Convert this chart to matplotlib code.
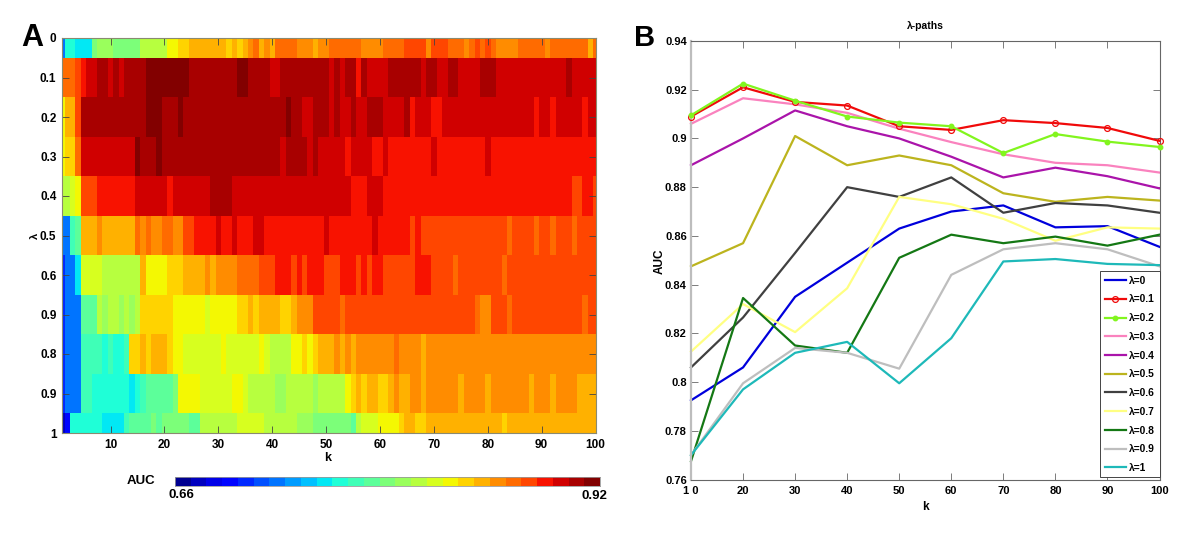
import numpy as np
import matplotlib
matplotlib.use("Agg")
from matplotlib import pyplot as plt
from matplotlib.colors import ListedColormap, BoundaryNorm

# AUC in hundredths, one row per lambda, k = 1..100
row_00 = [72,76,76,75,75,75,79,80,80,80, 79,79,79,79,79,81,81,81,81,81, 83,83,84,84,85,85,85,85,85,85, 85,84,85,84,85,86,87,85,86,85,
          87,87,87,87,86,86,86,85,86,86, 87,87,87,87,87,87,86,86,86,86, 87,87,87,87,88,88,88,88,86,88, 88,88,87,87,87,86,87,88,87,88,
          87,86,86,86,86,87,87,87,87,87, 86,87,87,87,87,87,87,87,85,87]
row_01 = [87,87,87,88,89,90,90,91,91,90, 91,90,91,91,91,91,92,92,92,92, 92,92,92,92,91,91,91,91,91,91, 91,91,91,92,92,91,91,91,91,90,
          90,91,91,91,91,91,91,91,91,91, 90,91,90,91,91,89,91,90,90,90, 90,91,91,91,91,91,91,90,91,91, 90,90,91,91,90,90,90,90,91,91,
          91,90,90,90,90,90,90,90,90,90, 90,90,90,90,91,90,90,90,90,90]
row_02 = [83,85,85,88,91,91,91,91,91,91, 91,91,91,91,91,91,92,92,92,91, 91,91,92,91,91,91,91,91,91,91, 91,91,91,91,91,91,91,91,91,91,
          91,91,92,91,91,90,90,91,91,91, 90,91,90,90,91,90,90,91,91,91, 90,90,90,90,91,89,90,90,90,89, 89,90,90,90,90,90,90,90,90,90,
          90,90,90,90,90,90,90,90,89,90, 90,89,90,90,90,90,90,89,90,90]
row_03 = [83,84,84,87,90,90,90,90,90,90, 90,90,90,90,92,91,91,91,92,91, 91,91,91,91,91,91,91,91,91,91, 91,91,91,91,91,91,91,91,91,91,
          91,90,91,91,91,91,90,91,90,90, 90,90,90,89,90,90,90,90,89,89, 90,89,89,89,89,89,89,89,89,90, 89,89,89,89,89,89,89,89,89,90,
          89,89,89,89,89,89,89,89,89,89, 89,89,89,89,89,89,89,89,89,89]
row_04 = [81,81,82,83,88,88,88,89,89,89, 89,89,89,89,90,90,90,90,90,90, 89,90,90,90,90,90,90,90,91,91, 91,91,90,90,90,90,90,90,90,90,
          90,90,90,90,90,90,90,90,90,90, 90,90,90,90,89,89,89,90,90,90, 89,89,89,89,89,89,89,89,89,89, 89,89,89,89,89,89,89,89,89,89,
          89,89,89,89,89,89,89,89,89,89, 89,89,89,89,89,88,88,89,89,88]
row_05 = [72,72,77,78,85,85,85,86,85,85, 85,85,85,85,87,86,87,86,86,87, 87,86,86,88,88,89,89,89,89,90, 89,89,90,89,89,89,90,90,89,89,
          89,89,89,89,89,89,89,89,89,90, 89,89,89,89,89,89,89,89,90,89, 89,89,89,89,89,88,89,88,88,88, 88,88,88,88,88,88,88,88,88,88,
          88,88,88,87,88,88,88,88,87,88, 88,87,88,88,88,87,88,88,88,88]
row_06 = [70,72,72,75,82,82,82,82,81,81, 81,81,81,81,81,85,83,83,83,83, 84,84,84,85,85,85,85,86,85,86, 86,86,86,87,87,87,87,88,88,88,
          89,89,89,88,89,88,89,89,89,88, 88,88,89,89,89,88,89,88,89,89, 88,88,88,88,88,88,89,89,89,88, 88,88,88,87,88,88,88,88,88,88,
          88,88,87,88,88,88,88,88,88,88, 88,88,88,88,88,88,88,88,88,88]
row_07 = [70,72,72,72,78,78,78,81,80,81, 81,80,81,80,81,84,84,84,84,84, 84,83,83,83,83,83,83,82,83,83, 83,83,83,84,84,85,84,85,85,85,
          85,84,84,85,86,86,86,88,88,88, 88,88,87,88,88,88,88,88,88,88, 88,88,88,88,88,88,88,88,88,88, 88,88,88,88,88,88,88,87,86,86,
          88,88,88,87,88,88,88,88,88,88, 88,88,88,88,88,88,88,87,88,88]
row_08 = [70,72,72,72,77,77,77,77,76,77, 76,76,77,84,84,85,84,85,85,85, 84,83,83,82,82,82,82,82,82,82, 83,82,82,82,82,82,82,83,82,81,
          81,81,81,83,83,84,83,84,85,85, 85,86,85,86,85,86,86,86,86,86, 86,86,87,86,86,86,86,85,86,86, 86,86,86,86,86,86,86,86,86,86,
          86,86,86,86,86,86,86,86,86,86, 86,86,86,86,86,86,86,86,86,86]
row_09 = [70,72,72,72,77,77,76,76,76,76, 76,76,76,75,76,77,78,78,78,78, 78,79,83,83,83,83,82,82,82,82, 82,82,83,83,82,81,81,81,81,81,
          80,80,81,81,81,81,81,80,81,81, 81,81,81,83,84,85,84,85,85,84, 84,85,86,85,85,86,86,85,86,86, 86,86,86,86,85,86,86,86,86,85,
          86,86,86,86,86,86,86,85,86,86, 86,85,86,86,86,86,85,85,85,85]
row_10 = [67,69,76,76,76,76,76,76,75,75, 75,75,77,78,78,78,78,79,78,79, 79,79,79,79,78,78,81,81,81,81, 81,81,81,82,82,82,82,82,81,81,
          81,81,81,81,80,80,80,79,79,79, 79,79,79,79,78,81,82,82,82,83, 83,83,83,84,85,85,84,84,85,85, 85,85,85,85,85,85,85,85,85,85,
          85,85,84,85,85,85,85,85,85,85, 85,85,85,85,85,85,85,85,85,85]

# panel B
k_values = [10, 20, 30, 40, 50, 60, 70, 80, 90, 100]
auc_00 = [.7925, .806, .835, .849, .863, .870, .8725, .8635, .864, .8555]
auc_01 = [.909, .921, .915, .9135, .905, .9035, .9075, .9063, .9043, .899]
auc_02 = [.9095, .9225, .9155, .909, .9065, .905, .894, .9018, .8987, .8965]
auc_03 = [.906, .9165, .914, .9105, .904, .8985, .8935, .89, .889, .886]
auc_04 = [.889, .900, .9115, .905, .900, .8925, .884, .888, .8845, .8795]
auc_05 = [.8475, .857, .901, .889, .893, .889, .8775, .874, .876, .8745]
auc_06 = [.806, .8265, .853, .88, .876, .884, .8695, .8735, .8725, .8695]
auc_07 = [.8125, .832, .8205, .8385, .876, .873, .867, .858, .8635, .863]
auc_08 = [.7675, .8345, .815, .812, .851, .8605, .857, .8597, .856, .8605]
auc_09 = [.77, .7995, .814, .812, .8055, .844, .8545, .857, .8545, .8475]
auc_10 = [.77, .797, .812, .8165, .7995, .818, .8495, .8505, .8485, .848]

lambda_labels = ["0", "0.1", "0.2", "0.3", "0.4", "0.5", "0.6", "0.9", "0.8", "0.9", "1"]
legend_labels = ["λ=0", "λ=0.1", "λ=0.2", "λ=0.3", "λ=0.4", "λ=0.5", "λ=0.6", "λ=0.7", "λ=0.8", "λ=0.9", "λ=1"]
y_labels_b = ["0.76", "0.78", "0.8", "0.82", "0.84", "0.86", "0.88", "0.9", "0.92", "0.94"]
x_labels_b = ["1 0", "20", "30", "40", "50", "60", "70", "80", "90", "100"]
line_colors = ["#0000dc", "#f00a0a", "#82f51e", "#fa82be", "#aa14aa", "#bcb41e",
               "#404040", "#ffff82", "#147814", "#bebebe", "#1eb9b9"]
auc_levels = list(range(66, 93))

W, H = 1200.0, 539.0
plt.rcParams["font.family"] = ["Liberation Sans", "DejaVu Sans"]


def px_axes(fig, left, top, right, bottom):
    return fig.add_axes([left / W, 1 - bottom / H, (right - left) / W, (bottom - top) / H])


fig = plt.figure(figsize=(12, 5.39), dpi=100)

# jet in 27 steps, the top end is a bit darker in the original
colors = plt.get_cmap("jet")(np.linspace(0, 1, 55)[1::2])
colors[-4] = (248 / 255, 18 / 255, 0, 1)
colors[-3] = (208 / 255, 0, 0, 1)
colors[-2] = (168 / 255, 0, 0, 1)
colors[-1] = (130 / 255, 0, 0, 1)
cmap = ListedColormap(colors)
norm = BoundaryNorm(np.arange(65.5, 93), 27)

# panel A
ax = px_axes(fig, 62, 38, 595.5, 433)
grid = np.array([row_00, row_01, row_02, row_03, row_04, row_05, row_06, row_07, row_08, row_09, row_10])
ax.imshow(grid, cmap=cmap, norm=norm, aspect="auto", interpolation="nearest", extent=(0.5, 100.5, 1.05, -0.05))
ax.set_xlim(1, 100)
ax.set_ylim(1, 0)
ax.set_xticks(range(10, 101, 10))
ax.set_yticks(np.arange(0, 1.01, 0.1))
ax.set_yticklabels(lambda_labels)
ax.tick_params(direction="in", length=5, width=0.6, color="#444444", top=True, right=True,
               labelsize=8.5, pad=4)
for lab in ax.get_xticklabels() + ax.get_yticklabels():
    lab.set_fontweight("bold")
for s in ax.spines.values():
    s.set_color("#8a8a70")
    s.set_linewidth(0.8)
fig.text(328 / W, 1 - 458 / H, "k", fontsize=9, fontweight="bold", ha="center", va="center")
fig.text(35 / W, 1 - 236 / H, "λ", fontsize=8, fontweight="bold", rotation=90, ha="center", va="center")
fig.text(32.5 / W, 1 - 38.5 / H, "A", fontsize=22, fontweight="bold", ha="center", va="center")

# colour bar
cax = px_axes(fig, 175, 476.5, 599.5, 486)
cax.imshow([auc_levels], cmap=cmap, norm=norm, aspect="auto", interpolation="nearest")
cax.set_xticks([])
cax.set_yticks([])
for s in cax.spines.values():
    s.set_color("#999999")
    s.set_linewidth(0.6)
fig.text(141 / W, 1 - 481 / H, "AUC", fontsize=9.5, fontweight="bold", ha="center", va="center")
fig.text(181 / W, 1 - 495 / H, "0.66", fontsize=9.5, fontweight="bold", ha="center", va="center")
fig.text(594 / W, 1 - 496 / H, "0.92", fontsize=9.5, fontweight="bold", ha="center", va="center")

# panel B
bx = px_axes(fig, 691, 41, 1159.5, 479.5)
series = [auc_00, auc_01, auc_02, auc_03, auc_04, auc_05, auc_06, auc_07, auc_08, auc_09, auc_10]
for i, vals in enumerate(series):
    kw = {}
    if i == 1:
        kw = dict(marker="o", ms=4.2, mfc="none", mew=0.9)
    elif i == 2:
        kw = dict(marker="o", ms=3.2)
    bx.plot(k_values, vals, color=line_colors[i], lw=1.6, label=legend_labels[i], clip_on=False,
            zorder=2 + (i in (1, 2)), **kw)
bx.set_xlim(10, 100)
bx.set_ylim(0.76, 0.94)
bx.set_xticks(k_values)
bx.set_xticklabels(x_labels_b)
bx.set_yticks(np.arange(0.76, 0.941, 0.02))
bx.set_yticklabels(y_labels_b)
bx.tick_params(direction="in", length=5, width=0.6, color="#666666", top=True, right=True, labelsize=8, pad=3)
bx.tick_params(axis="x", pad=5)
for lab in bx.get_xticklabels() + bx.get_yticklabels():
    lab.set_fontweight("bold")
for s in bx.spines.values():
    s.set_color("#666666")
    s.set_linewidth(0.8)
bx.spines["left"].set_color("#bdbdbd")
bx.spines["left"].set_linewidth(1.6)
fig.text(925 / W, 1 - 507 / H, "k", fontsize=8.5, fontweight="bold", ha="center", va="center")
fig.text(660 / W, 1 - 261 / H, "AUC", fontsize=8.5, fontweight="bold", rotation=90, ha="center", va="center")
fig.text(925 / W, 1 - 26 / H, "λ-paths", fontsize=7.5, fontweight="bold", ha="center", va="center")
fig.text(645 / W, 1 - 38.5 / H, "B", fontsize=21, fontweight="bold", ha="center", va="center")

leg = bx.legend(loc="lower right", bbox_to_anchor=(1.0, 0.005), borderaxespad=0, fancybox=False, framealpha=1,
                edgecolor="#444444", handlelength=2.1, handletextpad=0.3, labelspacing=0.85,
                borderpad=0.42, prop={"weight": "bold", "size": 7.4})
leg.get_frame().set_linewidth(0.7)
leg.set_zorder(10)

plt.savefig("out.png", dpi=100)
plt.close("all")
